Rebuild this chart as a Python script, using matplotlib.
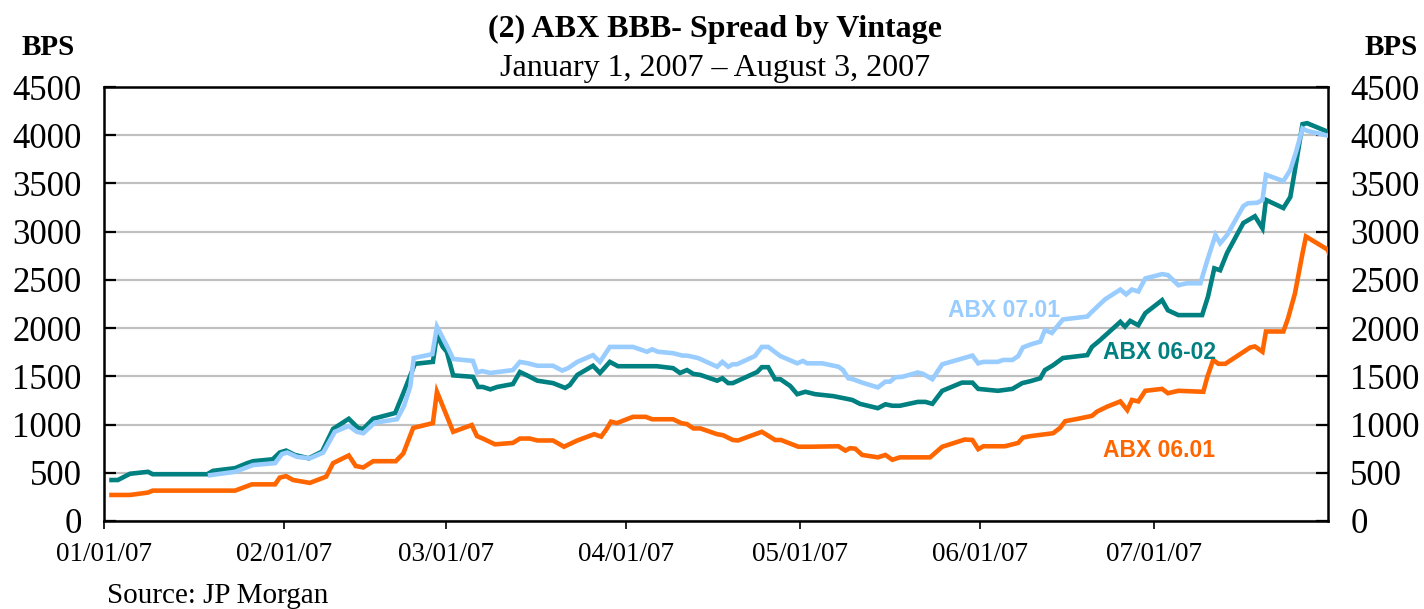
import matplotlib
matplotlib.use("Agg")
import matplotlib.pyplot as plt
import matplotlib.dates as mdates
import numpy as np
import pandas as pd

# Data: days since 01/01/2007 and spread in bps
start = pd.Timestamp("2007-01-01")

days_0701 = [18.3, 22.6, 25.7, 29.5, 30.7, 31.6, 33.3, 35.5, 37.8, 39.8, 42.2, 43.6,
             44.7, 46.7, 50.5, 51.7, 52.8, 53.4, 56.6, 57.4, 59.3, 60.2, 63.6, 64.3,
             65.2, 66.6, 70.5, 71.7, 73.1, 74.7, 77.4, 79.0, 80.0, 81.6, 84.3, 85.5,
             87.2, 91.2, 93.6, 94.5, 95.5, 98.1, 99.7, 100.5, 102.4, 105.7, 106.6,
             107.6, 108.4, 109.1, 112.2, 113.4, 114.5, 116.6, 119.5, 120.5, 121.2,
             123.8, 126.6, 127.4, 128.3, 129.1, 130.7, 133.4, 134.7, 135.5, 136.4,
             137.6, 140.3, 141.2, 142.8, 144.5, 149.7, 150.7, 151.6, 154.1, 155.0,
             156.6, 157.6, 158.4, 159.7, 161.4, 162.2, 163.4, 165.3, 169.5, 170.3,
             172.6, 175.2, 176.2, 177.2, 178.3, 179.5, 182.4, 183.4, 185.2, 186.7,
             189.0, 190.2, 191.6, 192.4, 193.6, 196.4, 197.2, 198.8, 199.7, 200.3,
             203.3, 204.5, 205.5, 206.6, 207.4, 211.4, 214.0]
abx_0701 = [475, 510, 580, 600, 695, 710, 665, 650, 710, 925, 985, 925,
            910, 1020, 1055, 1190, 1395, 1690, 1730, 2015, 1795, 1680, 1660, 1540,
            1555, 1535, 1565, 1650, 1635, 1610, 1610, 1560, 1585, 1650, 1720, 1650,
            1805, 1805, 1755, 1780, 1755, 1740, 1715, 1715, 1690, 1600, 1650,
            1600, 1625, 1625, 1710, 1805, 1805, 1710, 1635, 1660, 1635,
            1635, 1600, 1565, 1480, 1470, 1435, 1385, 1445, 1445, 1490,
            1495, 1540, 1525, 1470, 1625, 1715, 1635, 1650, 1650, 1670,
            1670, 1710, 1800, 1830, 1860, 1980, 1950, 2090, 2120, 2170,
            2300, 2400, 2350, 2400, 2380, 2515, 2560, 2550, 2445, 2465,
            2465, 2705, 2965, 2880, 2965, 3265, 3295, 3300, 3330, 3590,
            3525, 3640, 3830, 4070, 4045, 3990, 3970]

days_0602 = [1.3, 2.4, 4.5, 7.6, 8.4, 17.8, 18.8, 22.6, 24.7, 25.7, 29.1, 30.3,
             31.4, 32.9, 35.3, 37.6, 39.5, 42.2, 43.8, 44.7, 46.4, 50.2, 51.6, 53.6,
             56.7, 57.4, 58.4, 59.1, 60.2, 63.6, 64.5, 65.3, 66.6, 67.8, 70.5, 71.7,
             73.1, 74.7, 77.4, 79.5, 80.3, 81.6, 84.3, 85.5, 87.2, 88.6, 95.3, 98.1,
             99.3, 100.5, 101.6, 102.8, 105.7, 106.6, 107.6, 108.4, 112.6, 113.4,
             114.5, 115.7, 116.6, 118.3, 119.5, 120.9, 122.6, 125.7, 127.8, 129.0,
             130.3, 133.4, 134.7, 135.9, 137.2, 140.3, 141.6, 142.8, 144.5, 147.9,
             149.7, 150.7, 154.1, 156.6, 158.3, 159.7, 161.4, 162.2, 163.6, 165.3,
             169.5, 170.3, 171.7, 175.2, 176.0, 176.9, 178.3, 179.5, 182.4, 183.4,
             185.2, 189.3, 190.3, 191.4, 192.4, 193.6, 196.4, 198.4, 199.7, 200.3,
             203.3, 204.5, 205.3, 206.6, 207.4, 211.4, 214.0]
abx_0602 = [425, 425, 490, 510, 485, 485, 520, 548, 600, 620, 640, 710,
            730, 685, 650, 720, 955, 1060, 965, 955, 1060, 1120, 1325, 1630,
            1650, 1930, 1805, 1755, 1510, 1495, 1390, 1390, 1365, 1390, 1420, 1545,
            1505, 1455, 1430, 1380, 1410, 1515, 1610, 1535, 1650, 1605, 1605, 1585,
            1535, 1565, 1525, 1515, 1455, 1480, 1430, 1430, 1545, 1595,
            1595, 1470, 1470, 1400, 1315, 1340, 1315, 1295, 1270, 1255,
            1215, 1170, 1210, 1195, 1195, 1235, 1235, 1215, 1350, 1435,
            1435, 1370, 1350, 1370, 1430, 1450, 1480, 1565, 1615, 1690,
            1720, 1805, 1875, 2065, 2015, 2075, 2030, 2155, 2290, 2185,
            2135, 2135, 2325, 2620, 2600, 2780, 3090, 3160, 3035, 3330,
            3245, 3360, 3640, 4115, 4125, 4025, 3990]

days_0601 = [1.3, 4.5, 7.6, 8.4, 22.6, 25.5, 29.5, 30.3, 31.4, 32.6, 35.5, 38.3,
             39.5, 42.2, 43.4, 44.7, 46.4, 50.3, 51.6, 53.3, 56.7, 57.4, 60.2, 63.4,
             64.3, 65.3, 67.4, 70.5, 71.7, 73.4, 74.7, 77.4, 79.3, 80.0, 81.6, 84.5,
             85.7, 86.6, 87.4, 88.4, 91.2, 93.4, 94.5, 98.1, 99.5, 100.5, 101.6,
             102.8, 105.7, 106.7, 108.4, 109.3, 113.4, 115.7, 116.7, 119.7, 121.7,
             126.6, 127.8, 128.6, 129.5, 130.7, 133.4, 134.7, 135.9, 137.2, 142.4,
             144.5, 148.4, 149.7, 150.7, 151.6, 155.3, 157.6, 158.4, 159.7, 163.6,
             164.8, 165.7, 168.3, 170.3, 171.2, 172.9, 175.2, 176.4, 177.2, 178.3,
             179.5, 182.4, 183.4, 185.2, 189.5, 190.2, 191.2, 192.1, 193.3, 197.6,
             198.4, 199.7, 200.3, 203.3, 204.1, 205.3, 206.6, 207.2, 210.9, 211.7,
             214.0]
abx_0601 = [270, 270, 295, 315, 315, 380, 380, 450, 465, 425, 395, 460,
            600, 680, 570, 555, 620, 620, 700, 965, 1015, 1340, 925, 995,
            880, 855, 795, 810, 855, 855, 835, 835, 770, 790, 835, 900,
            875, 950, 1030, 1015, 1080, 1080, 1055, 1055, 1015, 1005, 960,
            960, 900, 890, 840, 835, 925, 840, 840, 770, 770,
            775, 730, 755, 750, 685, 660, 685, 635, 660, 660,
            770, 845, 840, 745, 775, 775, 810, 865, 880, 910,
            965, 1035, 1065, 1090, 1135, 1185, 1240, 1150, 1255, 1240,
            1350, 1370, 1325, 1350, 1340, 1495, 1670, 1630, 1630, 1800,
            1810, 1755, 1965, 1965, 2100, 2360, 2775, 2950, 2815, 2705,
            2450]

series = [
    ("ABX 06.01", days_0601, abx_0601, "#ff6600"),
    ("ABX 06-02", days_0602, abx_0602, "#008080"),
    ("ABX 07.01", days_0701, abx_0701, "#99ccff"),
]

month_ticks = pd.date_range("2007-01-01", "2007-07-01", freq="MS")
y_ticks = np.arange(0, 4501, 500)

serif = "Liberation Serif"
sans = "Liberation Sans"

fig = plt.figure(figsize=(14.24, 6.09), dpi=100)
ax = fig.add_axes([0.0730, 0.1445, 0.8596, 0.7126])

for name, days, vals, color in series:
    dates = start + pd.to_timedelta(np.array(days), unit="D")
    ax.plot(dates, vals, color=color, linewidth=3.3, solid_joinstyle="miter", zorder=3)

ax.set_xlim(start, start + pd.Timedelta(days=211))
ax.set_ylim(0, 4500)
ax.set_yticks(y_ticks)
ax.set_xticks(month_ticks)
ax.xaxis.set_major_formatter(mdates.DateFormatter("%m/%d/%y"))

ax.grid(axis="y", color="#c0c0c0", linewidth=1.6, zorder=1)
ax.set_axisbelow(True)
for side in ["left", "right", "top", "bottom"]:
    ax.spines[side].set_linewidth(1.8)
    ax.spines[side].set_color("black")

ax.tick_params(axis="y", direction="in", length=8.5, width=1.6, left=True, right=True,
               labelleft=True, labelright=True, pad=16, labelsize=25)
ax.tick_params(axis="x", direction="out", length=6, width=1.2, pad=9, labelsize=19.5)
for lbl in ax.get_xticklabels():
    lbl.set_fontfamily(serif)
for t in ax.yaxis.get_major_ticks():
    t.label1.set_fontfamily(serif)
    t.label2.set_fontfamily(serif)

# series labels
ax.text(start + pd.Timedelta(days=145.5), 2180, "ABX 07.01", color="#99ccff",
        fontsize=16.5, fontweight="bold", family=sans, ha="left", va="center")
ax.text(start + pd.Timedelta(days=172.2), 1750, "ABX 06-02", color="#008080",
        fontsize=16.5, fontweight="bold", family=sans, ha="left", va="center")
ax.text(start + pd.Timedelta(days=172.2), 735, "ABX 06.01", color="#ff6600",
        fontsize=16.5, fontweight="bold", family=sans, ha="left", va="center")

fig.text(0.502, 0.952, "(2) ABX BBB- Spread by Vintage", ha="center", va="center",
         fontsize=23, fontweight="bold", family=serif)
fig.text(0.502, 0.888, "January 1, 2007 \u2013 August 3, 2007", ha="center", va="center",
         fontsize=23, family=serif)
fig.text(0.0337, 0.922, "BPS", ha="center", va="center", fontsize=21,
         fontweight="bold", family=serif)
fig.text(0.977, 0.922, "BPS", ha="center", va="center", fontsize=21,
         fontweight="bold", family=serif)
fig.text(0.075, 0.021, "Source: JP Morgan", ha="left", va="center", fontsize=21,
         family=serif)

fig.savefig("out.png", dpi=100)
